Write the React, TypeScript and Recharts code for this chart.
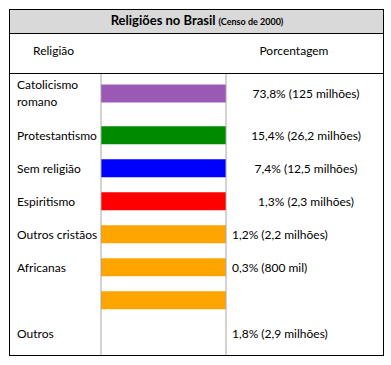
import React from 'react';
import { BarChart, Bar, XAxis, YAxis, Cell, ReferenceLine, Customized } from 'recharts';

const title = 'Religiões no Brasil';
const subtitle = '(Censo de 2000)';
const headerLeft = 'Religião';
const headerRight = 'Porcentagem';
const religions = ['Catolicismo romano', 'Protestantismo', 'Sem religião', 'Espiritismo', 'Outros cristãos', 'Africanas', '', 'Outros'];
const percentLabels = ['73,8% (125 milhões)', '15,4% (26,2 milhões)', '7,4% (12,5 milhões)', '1,3% (2,3 milhões)', '1,2% (2,2 milhões)', '0,3% (800 mil)', '', '1,8% (2,9 milhões)'];
const barLengths = [1, 1, 1, 1, 1, 1, 1, null];
const barColors = ['#9b59b6', '#008a00', '#0000ff', '#ff0000', '#ffa500', '#ffa500', '#ffa500', '#ffffff'];

const FONT = 'Lato, "Open Sans", sans-serif';

const rows = religions.map((name, i) => ({
  name,
  pct: percentLabels[i],
  value: barLengths[i],
  pos: i === 0 ? -1.27 : i - 1,
}));
const positions = rows.map((r) => r.pos);

const findRow = (v: number) => rows.findIndex((r) => Math.abs(r.pos - v) < 1e-6);

const LeftTick = (props: any) => {
  const { y, payload } = props;
  const idx = findRow(payload.value);
  if (idx < 0) return null;
  const label = rows[idx].name;
  if (!label) return null;
  if (label.length > 15) {
    const sp = label.indexOf(' ');
    return (
      <text x={17} y={y} fontFamily={FONT} fontSize={12} fill="#000" textAnchor="start">
        <tspan x={17} dy={-4.5}>{label.slice(0, sp)}</tspan>
        <tspan x={17} dy={17}>{label.slice(sp + 1)}</tspan>
      </text>
    );
  }
  return (
    <text x={17} y={y} dy={4} fontFamily={FONT} fontSize={12} fill="#000" textAnchor="start">
      {label}
    </text>
  );
};

const RightTick = (props: any) => {
  const { y, payload } = props;
  const idx = findRow(payload.value);
  if (idx < 0) return null;
  const label = rows[idx].pct;
  if (!label) return null;
  const centered = idx < 4;
  return (
    <text
      x={centered ? 306 : 232}
      y={y}
      dy={4}
      fontFamily={FONT}
      fontSize={12}
      fill="#000"
      textAnchor={centered ? 'middle' : 'start'}
    >
      {label}
    </text>
  );
};

const Frame = () => (
  <g>
    <rect x={9.5} y={9.5} width={374} height={24} fill="#d9d9d9" />
    <rect x={9.5} y={9.5} width={374} height={346} fill="none" stroke="#000" strokeWidth={1} />
    <line x1={9.5} x2={383.5} y1={33.5} y2={33.5} stroke="#000" />
    <line x1={9.5} x2={383.5} y1={73.5} y2={73.5} stroke="#000" />
    <text x={197} y={25} textAnchor="middle" fontFamily={FONT} fill="#000">
      <tspan fontSize={13} fontWeight="bold">{title}</tspan>
      <tspan fontSize={9} fontWeight="bold" dx={3}>{subtitle}</tspan>
    </text>
    <text x={33} y={55} fontFamily={FONT} fontSize={12} fill="#000">{headerLeft}</text>
    <text x={294} y={55} textAnchor="middle" fontFamily={FONT} fontSize={12} fill="#000">{headerRight}</text>
  </g>
);

export default function App() {
  return (
    <div style={{ position: 'absolute', left: 0, top: 0, background: '#fff' }}>
      <BarChart
        width={391}
        height={365}
        data={rows}
        layout="vertical"
        margin={{ top: 74, bottom: 10, left: 0, right: 0 }}
      >
        <Customized component={Frame} />
        <XAxis type="number" domain={[0, 1]} hide />
        <YAxis
          yAxisId="left"
          type="number"
          dataKey="pos"
          domain={[-1.873, 6.647]}
          allowDataOverflow
          width={101}
          axisLine={false}
          tickLine={false}
          ticks={positions}
          interval={0}
          tick={<LeftTick />}
        />
        <YAxis
          yAxisId="right"
          orientation="right"
          type="number"
          dataKey="pos"
          domain={[-1.873, 6.647]}
          allowDataOverflow
          width={165}
          axisLine={false}
          tickLine={false}
          ticks={positions}
          interval={0}
          tick={<RightTick />}
        />
        <ReferenceLine yAxisId="left" x={0} stroke="#a6a6a6" />
        <ReferenceLine yAxisId="left" x={1} stroke="#a6a6a6" />
        <Bar yAxisId="left" dataKey="value" barSize={18} isAnimationActive={false}>
          {rows.map((r, i) => (
            <Cell key={i} fill={barColors[i]} />
          ))}
        </Bar>
      </BarChart>
    </div>
  );
}
